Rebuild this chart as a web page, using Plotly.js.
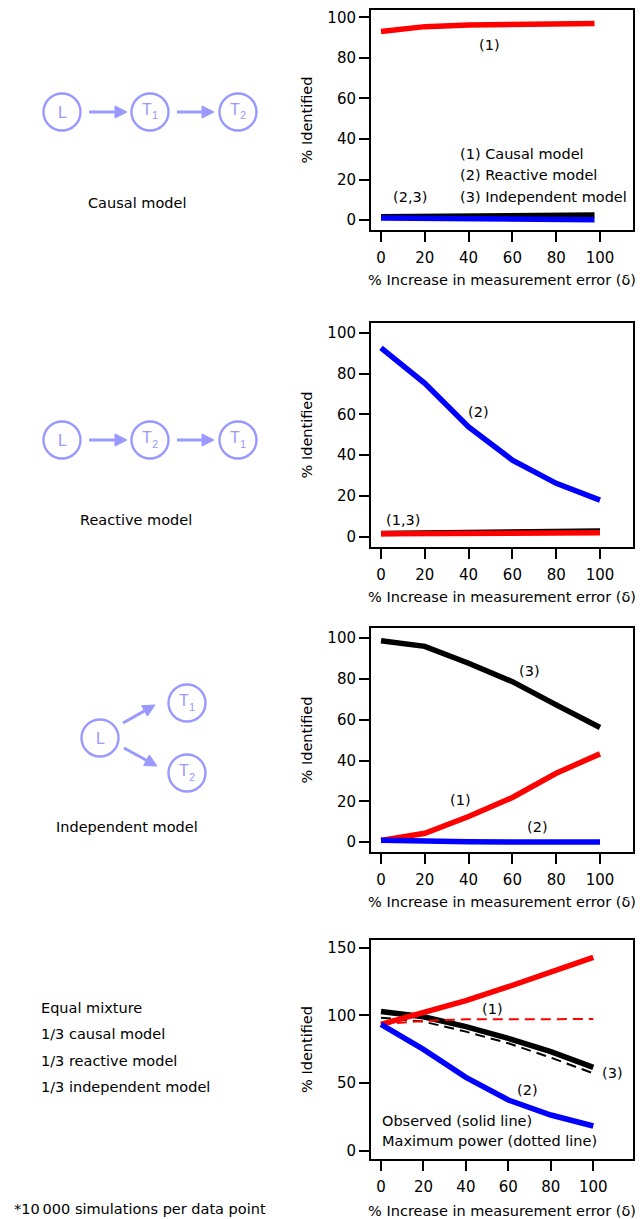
<!DOCTYPE html>
<html>
<head>
<meta charset="utf-8">
<script src="https://cdn.plot.ly/plotly-3.0.1.min.js"></script>
<style>html,body{margin:0;padding:0;background:#fff;}#chart{width:640px;height:1219px;}</style>
</head>
<body>
<div id="chart"></div>
<script>
// ---------------- data ----------------
const xTicks = [0, 20, 40, 60, 80, 100];
const xDelta = [0, 20, 40, 60, 80, 100];
const xDeltaP1 = [0, 20, 40, 60, 80, 97.5];

// Panel 1: data simulated under causal model
const p1Causal = [93.0, 95.4, 96.2, 96.5, 96.8, 96.9];
const p1Reactive = [1.0, 0.8, 0.6, 0.4, 0.3, 0.2];
const p1Independent = [1.6, 1.8, 2.0, 2.2, 2.4, 2.5];

// Panel 2: reactive model
const p2Causal = [1.5, 1.6, 1.7, 1.8, 1.9, 2.0];
const p2Reactive = [92.6, 75.2, 53.9, 37.6, 26.2, 18.0];
const p2Independent = [1.6, 1.8, 2.0, 2.3, 2.6, 2.8];

// Panel 3: independent model
const p3Causal = [0.8, 4.4, 12.6, 21.9, 33.8, 43.3];
const p3Reactive = [1.0, 0.4, 0.2, 0.1, 0.1, 0.1];
const p3Independent = [98.8, 96.0, 87.7, 78.7, 67.3, 56.2];

// Panel 4: equal mixture
const p4Causal = [93.4, 102.0, 110.9, 121.2, 132.3, 142.9];
const p4CausalMax = [93.4, 95.9, 97.1, 97.2, 97.3, 97.3];
const p4Reactive = [93.4, 74.9, 54.2, 37.5, 26.4, 18.3];
const p4Independent = [102.8, 99.0, 91.7, 83.0, 73.2, 61.6];
const p4IndependentMax = [98.3, 95.4, 88.0, 79.4, 68.8, 57.2];

const yTicks100 = [0, 20, 40, 60, 80, 100];
const yTicks150 = [0, 50, 100, 150];

// ---------------- layout helpers ----------------
const W = 640, H = 1219;
const px = v => v / W;
const py = v => 1 - v / H;
const FONT = 'DejaVu Sans, Verdana, sans-serif';
const NFONT = 'Liberation Sans, Arial, sans-serif';
const FS = 15;     // tick labels
const TS = 14.5;   // annotations and titles
const RED = '#ff0000', BLUE = '#0000ff', BLACK = '#000000', NODE = '#9999ff';

function line(x, y, color, xa, ya, dash, width) {
  return {x: x, y: y, type: 'scatter', mode: 'lines', xaxis: xa, yaxis: ya,
    line: {color: color, width: width || 5.5, dash: dash || 'solid'}, hoverinfo: 'skip', showlegend: false};
}

const data = [
  line(xDeltaP1, p1Independent, BLACK, 'x', 'y'),
  line(xDeltaP1, p1Causal, RED, 'x', 'y'),
  line(xDeltaP1, p1Reactive, BLUE, 'x', 'y'),

  line(xDelta, p2Independent, BLACK, 'x2', 'y2'),
  line(xDelta, p2Causal, RED, 'x2', 'y2'),
  line(xDelta, p2Reactive, BLUE, 'x2', 'y2'),

  line(xDelta, p3Independent, BLACK, 'x3', 'y3'),
  line(xDelta, p3Causal, RED, 'x3', 'y3'),
  line(xDelta, p3Reactive, BLUE, 'x3', 'y3'),

  line(xDelta, p4IndependentMax, BLACK, 'x4', 'y4', '10px,6px', 2),
  line(xDelta, p4Independent, BLACK, 'x4', 'y4'),
  line(xDelta, p4CausalMax, RED, 'x4', 'y4', '10px,6px', 2),
  line(xDelta, p4Causal, RED, 'x4', 'y4'),
  line(xDelta, p4Reactive, BLUE, 'x4', 'y4')
];

const xDomain = [px(371), px(633)];
const panels = [
  {top: 10, bottom: 230, xr: [-4.57, 115.07], yr: [-4.9, 103.6], yt: yTicks100, ts: 9},
  {top: 323, bottom: 547, xr: [-4.57, 115.07], yr: [-5.0, 104.8], yt: yTicks100, ts: 9},
  {top: 628, bottom: 852, xr: [-4.57, 115.07], yr: [-4.8, 105.0], yt: yTicks100, ts: 9},
  {top: 940, bottom: 1159, xr: [-4.7, 118.7], yr: [-6.1, 155.7], yt: yTicks150, ts: 11}
];

const layout = {
  width: W, height: H,
  margin: {l: 0, r: 0, t: 0, b: 0},
  paper_bgcolor: '#fff', plot_bgcolor: '#fff',
  font: {family: FONT, size: FS, color: '#000'},
  showlegend: false,
  annotations: [],
  shapes: []
};

panels.forEach((p, i) => {
  const sfx = i === 0 ? '' : String(i + 1);
  layout['xaxis' + sfx] = {
    domain: xDomain, anchor: 'y' + sfx, range: p.xr,
    tickmode: 'array', tickvals: xTicks, ticktext: xTicks.map(String),
    ticks: 'outside', ticklen: 10, tickwidth: 2, tickcolor: '#000', ticklabelstandoff: 3,
    showline: true, mirror: true, linewidth: 2, linecolor: '#000',
    showgrid: false, zeroline: false,
    tickfont: {family: FONT, size: FS, color: '#000'},
    title: {text: '% Increase in measurement error (δ)', font: {family: FONT, size: TS, color: '#000'}, standoff: p.ts}
  };
  layout['yaxis' + sfx] = {
    domain: [py(p.bottom), py(p.top)], anchor: 'x' + sfx, range: p.yr,
    tickmode: 'array', tickvals: p.yt, ticktext: p.yt.map(String),
    ticks: 'outside', ticklen: 10, tickwidth: 2, tickcolor: '#000',
    showline: true, mirror: true, linewidth: 2, linecolor: '#000',
    showgrid: false, zeroline: false,
    tickfont: {family: FONT, size: FS, color: '#000'},
    title: {text: '% Identified', font: {family: FONT, size: TS, color: '#000'}, standoff: 11}
  };
});

function txt(x, y, text, anchor, size, color, family) {
  layout.annotations.push({xref: 'paper', yref: 'paper', x: px(x), y: py(y), text: text,
    showarrow: false, xanchor: anchor || 'center', yanchor: 'middle',
    font: {family: family || FONT, size: size || TS, color: color || '#000'}});
}

// in-plot labels
txt(489, 45, '(1)');
txt(410, 197, '(2,3)');
txt(458, 154, '(1) Causal model', 'left');
txt(458, 175, '(2) Reactive model', 'left');
txt(458, 197, '(3) Independent model', 'left');

txt(478, 412, '(2)');
txt(403, 520, '(1,3)');

txt(529, 671, '(3)');
txt(460, 800, '(1)');
txt(537, 827, '(2)');

txt(492, 1009, '(1)');
txt(612, 1073, '(3)');
txt(527, 1090, '(2)');
txt(380, 1121, 'Observed (solid line)', 'left');
txt(380, 1141, 'Maximum power (dotted line)', 'left');

// left column texts
txt(137, 203, 'Causal model');
txt(136, 520, 'Reactive model');
txt(127, 827, 'Independent model');
txt(39, 1008, 'Equal mixture', 'left');
txt(39, 1034, '1/3 causal model', 'left');
txt(39, 1061, '1/3 reactive model', 'left');
txt(39, 1087, '1/3 independent model', 'left');
txt(12, 1209, '*10\u2009000 simulations per data point', 'left');

// model diagrams
const R = 18.5;
function circle(cx, cy) {
  layout.shapes.push({type: 'circle', xref: 'paper', yref: 'paper',
    x0: px(cx - R), x1: px(cx + R), y0: py(cy + R), y1: py(cy - R),
    line: {color: NODE, width: 2.4}, fillcolor: 'rgba(0,0,0,0)'});
}
function nodeL(cx, cy) {
  circle(cx, cy);
  txt(cx + 0.5, cy, 'L', 'center', 16, NODE, NFONT);
}
function nodeT(cx, cy, sub) {
  circle(cx, cy);
  txt(cx - 3.5, cy - 2.5, 'T', 'center', 16, NODE, NFONT);
  txt(cx + 4.5, cy + 3.5, sub, 'center', 11, NODE, NFONT);
}
function arrow(x0, y0, x1, y1) {
  const dx = x1 - x0, dy = y1 - y0, len = Math.hypot(dx, dy);
  const ux = dx / len, uy = dy / len;
  const hl = 12, hw = 6;
  const bx = x1 - ux * hl, by = y1 - uy * hl;
  layout.shapes.push({type: 'line', xref: 'paper', yref: 'paper',
    x0: px(x0), y0: py(y0), x1: px(bx + ux), y1: py(by + uy),
    line: {color: NODE, width: 3}});
  const p1x = bx - uy * hw, p1y = by + ux * hw;
  const p2x = bx + uy * hw, p2y = by - ux * hw;
  layout.shapes.push({type: 'path', xref: 'paper', yref: 'paper',
    path: 'M ' + px(x1) + ' ' + py(y1) + ' L ' + px(p1x) + ' ' + py(p1y) + ' L ' + px(p2x) + ' ' + py(p2y) + ' Z',
    fillcolor: NODE, line: {color: NODE, width: 1}});
}

nodeL(62, 112); nodeT(150, 112, '1'); nodeT(238, 112, '2');
arrow(89, 112, 127, 112); arrow(177, 112, 214, 112);

nodeL(62, 440); nodeT(150, 440, '2'); nodeT(238, 440, '1');
arrow(89, 440, 127, 440); arrow(177, 440, 214, 440);

nodeL(100, 738); nodeT(187, 703, '1'); nodeT(187, 773, '2');
arrow(123, 723, 155, 705); arrow(124, 748, 157, 766);

Plotly.newPlot('chart', data, layout, {staticPlot: true, displayModeBar: false});
</script>
</body>
</html>
